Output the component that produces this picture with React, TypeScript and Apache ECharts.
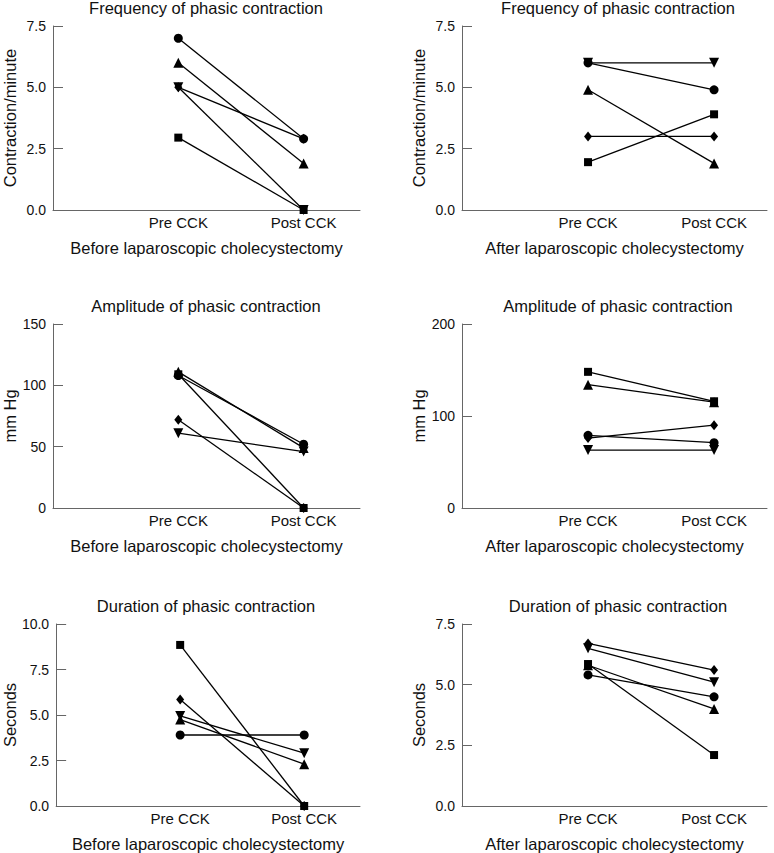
import React, { useEffect, useRef } from "react";
import * as echarts from "echarts";

// Group labels on the x axis
const groups = ["Pre CCK", "Post CCK"];

// Marker shapes, in the order used by every data table below
const shapes = ["circle", "rect", "triangle", "invTriangle", "diamond"];

// Frequency of phasic contraction (contraction/minute): [pre, post] per marker
const freqBefore = [[7.0, 2.9], [2.95, 0], [6.0, 1.9], [5.0, 0], [5.0, 2.9]];
const freqAfter = [[6.0, 4.9], [1.95, 3.9], [4.9, 1.9], [6.0, 6.0], [3.0, 3.0]];

// Amplitude of phasic contraction (mm Hg)
const ampBefore = [[108, 52], [109, 0], [111, 49], [61, 46], [72, 0]];
const ampAfter = [[79, 71], [148, 116], [134, 115], [63, 63], [76, 90]];

// Duration of phasic contraction (seconds)
const durBefore = [[3.9, 3.9], [8.85, 0], [4.75, 2.3], [4.95, 2.9], [5.85, 0]];
const durAfter = [[5.4, 4.5], [5.85, 2.1], [5.8, 4.0], [6.5, 5.1], [6.7, 5.6]];

const titles = [
  "Frequency of phasic contraction",
  "Amplitude of phasic contraction",
  "Duration of phasic contraction",
];
const yNames = ["Contraction/minute", "mm Hg", "Seconds"];
const xNames = ["Before laparoscopic cholecystectomy", "After laparoscopic cholecystectomy"];

// y axis scales: [min, max, interval, decimals] per panel
const yScales = [
  [0, 7.5, 2.5, 1],
  [0, 7.5, 2.5, 1],
  [0, 150, 50, 0],
  [0, 200, 100, 0],
  [0, 10, 2.5, 1],
  [0, 7.5, 2.5, 1],
];

const panelData = [freqBefore, freqAfter, ampBefore, ampAfter, durBefore, durAfter];

const FONT = "'Liberation Sans', Arial, Helvetica, sans-serif";
const TEXT = "#111";
const AXIS = "#666";

export default function App() {
  const ref = useRef<HTMLDivElement>(null);

  useEffect(() => {
    document.body.style.margin = "0";
    if (!ref.current) return;
    const chart = echarts.init(ref.current, null, { renderer: "svg" });

    const rowTops = [26, 324, 624];
    const rowHeight = 184;
    const colLeft = [50, 462];
    const colWidth = [310, 305];
    const colXMax = [2.45, 2.42];
    const colCenter = [206, 618];

    const grids: any[] = [];
    const xAxes: any[] = [];
    const yAxes: any[] = [];
    const series: any[] = [];
    const title: any[] = [];

    for (let p = 0; p < 6; p++) {
      const row = Math.floor(p / 2);
      const col = p % 2;
      grids.push({
        left: colLeft[col],
        top: rowTops[row],
        width: colWidth[col],
        height: rowHeight,
        containLabel: false,
      });
      title.push({
        text: titles[row],
        left: colCenter[col],
        top: rowTops[row] - 27,
        textAlign: "center",
        padding: 0,
        textStyle: { fontFamily: FONT, fontSize: 16.5, fontWeight: "normal", color: TEXT },
      });
      xAxes.push({
        type: "value",
        gridIndex: p,
        min: 0,
        max: colXMax[col],
        interval: 1,
        name: xNames[col],
        nameLocation: "middle",
        nameGap: 29,
        nameTextStyle: { fontFamily: FONT, fontSize: 16.5, color: TEXT },
        axisLine: { show: true, lineStyle: { color: AXIS, width: 1 } },
        axisTick: { show: false },
        splitLine: { show: false },
        axisLabel: {
          margin: 5,
          fontFamily: FONT,
          fontSize: 15,
          color: TEXT,
          formatter: (v: number) => (Number.isInteger(v) && v >= 1 && v <= groups.length ? groups[v - 1] : ""),
        },
      });
      const [mn, mx, iv, dec] = yScales[p];
      yAxes.push({
        type: "value",
        gridIndex: p,
        min: mn,
        max: mx,
        interval: iv,
        name: yNames[row],
        nameLocation: "middle",
        nameGap: 35,
        nameTextStyle: { fontFamily: FONT, fontSize: 16.5, color: TEXT },
        axisLine: { show: true, lineStyle: { color: AXIS, width: 1 } },
        axisTick: { show: true, inside: true, length: 10, lineStyle: { color: AXIS, width: 1 } },
        splitLine: { show: false },
        axisLabel: {
          margin: 7,
          fontFamily: FONT,
          fontSize: 14,
          color: TEXT,
          formatter: (v: number) => v.toFixed(dec),
        },
      });
      panelData[p].forEach((vals, i) => {
        const shape = shapes[i];
        const symbol = shape === "invTriangle" ? "triangle" : shape;
        const size =
          shape === "circle" ? 9 : shape === "rect" ? 8 : shape === "diamond" ? [8, 10] : 10;
        series.push({
          type: "line",
          xAxisIndex: p,
          yAxisIndex: p,
          data: vals.map((v, k) => [k + 1, v]),
          symbol,
          symbolSize: size,
          symbolRotate: shape === "invTriangle" ? 180 : 0,
          showSymbol: true,
          lineStyle: { color: "#000", width: 1.3 },
          itemStyle: { color: "#000", borderWidth: 0 },
          emphasis: { disabled: true },
          silent: true,
        });
      });
    }

    chart.setOption({
      animation: false,
      backgroundColor: "#fff",
      title,
      grid: grids,
      xAxis: xAxes,
      yAxis: yAxes,
      series,
    });

    return () => chart.dispose();
  }, []);

  return <div ref={ref} style={{ width: 774, height: 853 }} />;
}
